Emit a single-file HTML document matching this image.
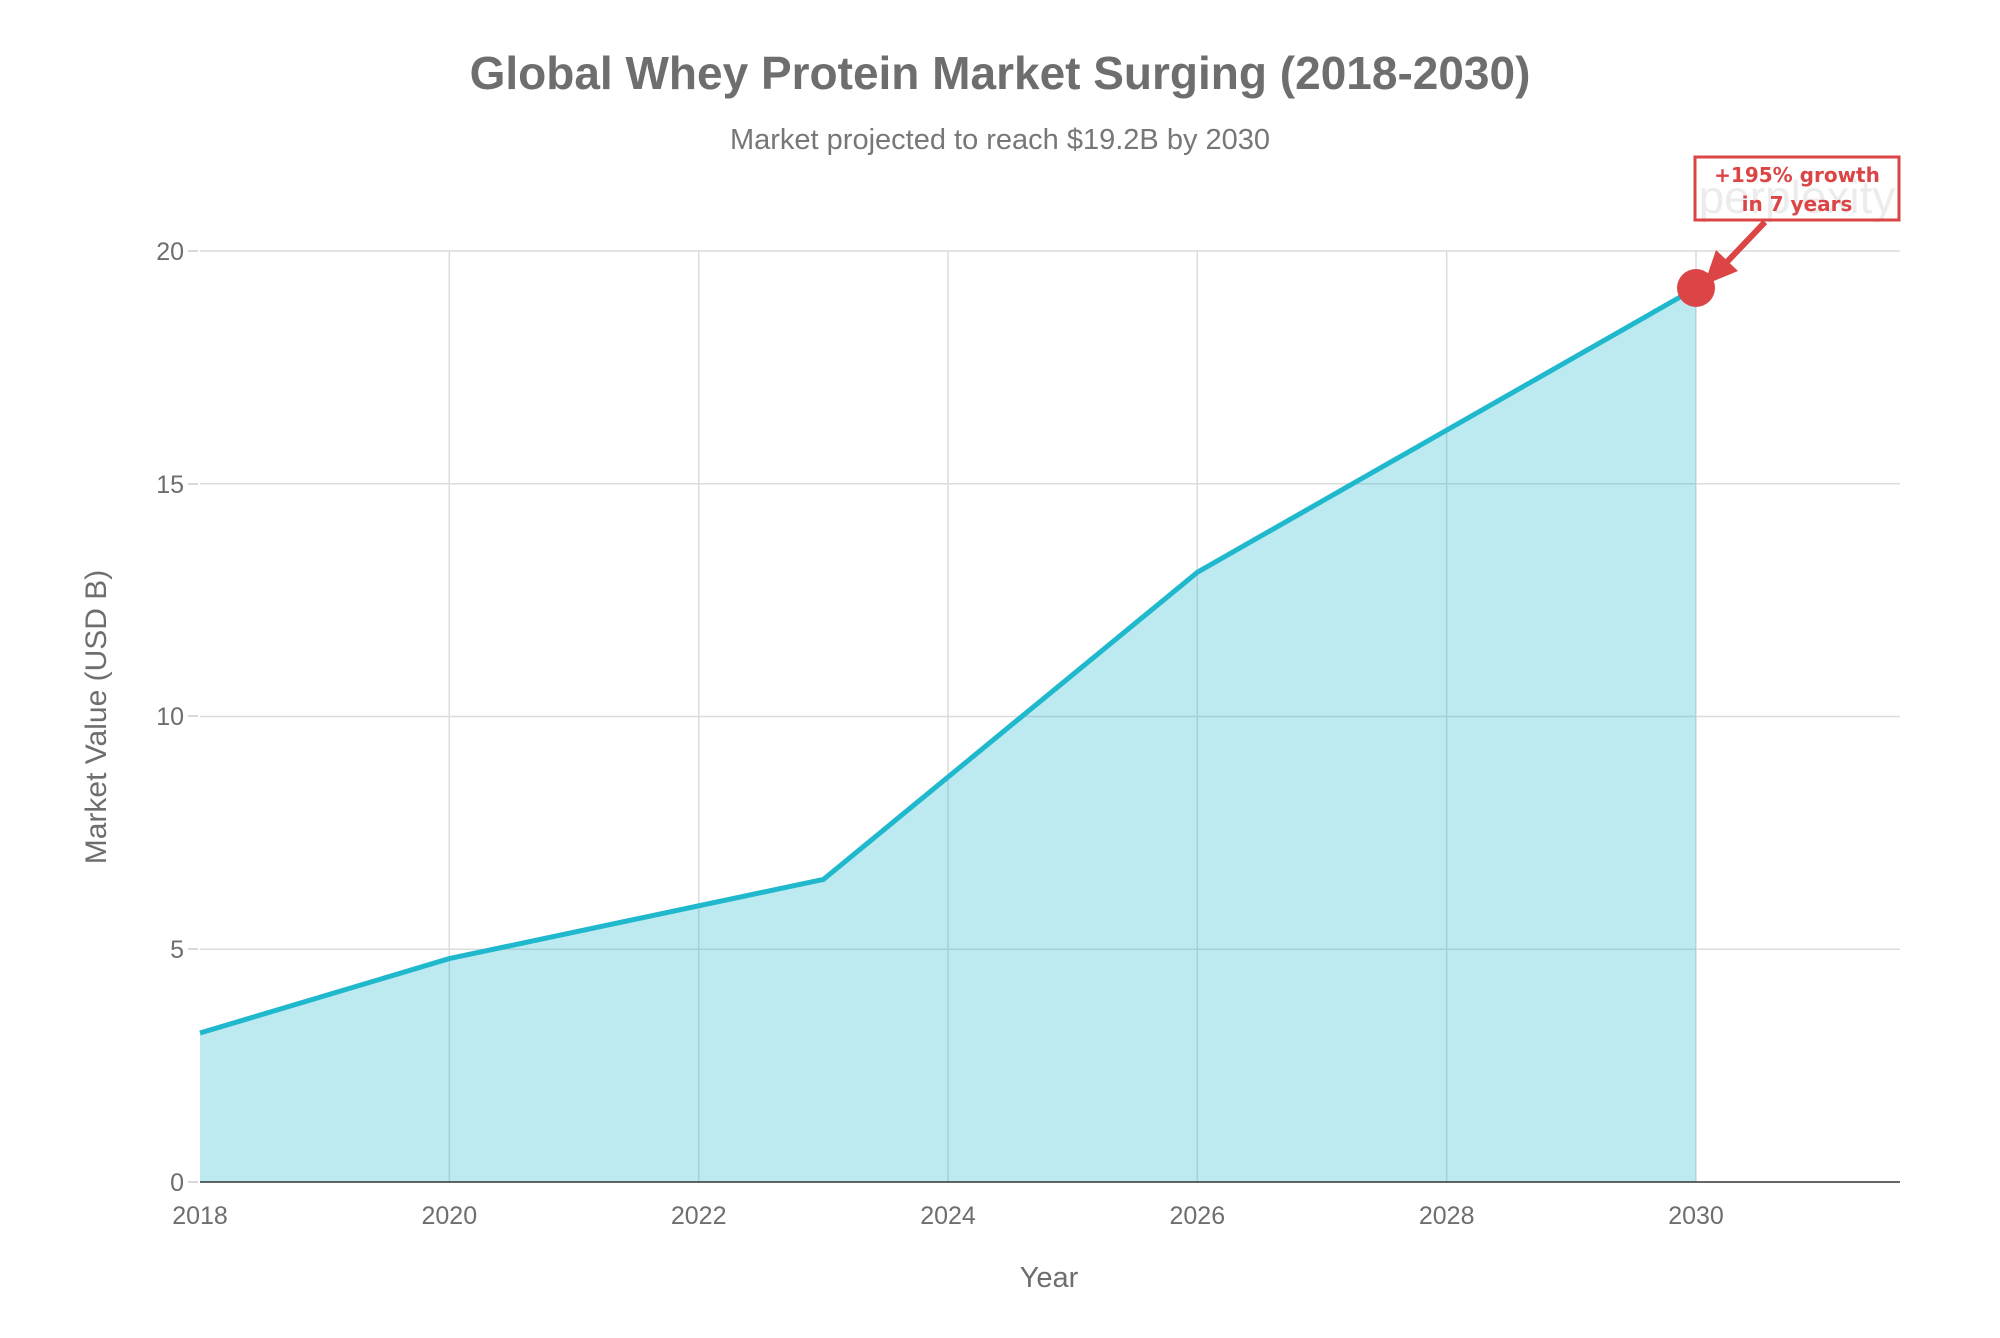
<!DOCTYPE html>
<html><head><style>
body{margin:0;background:#fff;}
svg text{font-family:"Liberation Sans",sans-serif;}
</style></head><body>
<svg width="2000" height="1333" viewBox="0 0 2000 1333" xmlns="http://www.w3.org/2000/svg">
<rect width="2000" height="1333" fill="#fff"/>
<text x="1000" y="89" text-anchor="middle" font-size="46" font-weight="bold" fill="#6e6e6e">Global Whey Protein Market Surging (2018-2030)</text>
<text x="1000" y="149" text-anchor="middle" font-size="29" fill="#777">Market projected to reach $19.2B by 2030</text>
<g stroke="#dcdcdc" stroke-width="1.5">
<line x1="200" y1="949.2" x2="1900" y2="949.2"/>
<line x1="200" y1="716.5" x2="1900" y2="716.5"/>
<line x1="200" y1="483.7" x2="1900" y2="483.7"/>
<line x1="200" y1="251" x2="1900" y2="251"/>
<line x1="449.3" y1="251" x2="449.3" y2="1182"/>
<line x1="698.7" y1="251" x2="698.7" y2="1182"/>
<line x1="948" y1="251" x2="948" y2="1182"/>
<line x1="1197.3" y1="251" x2="1197.3" y2="1182"/>
<line x1="1446.7" y1="251" x2="1446.7" y2="1182"/>
<line x1="1696" y1="251" x2="1696" y2="1182"/>
</g>
<polygon points="200,1182 200,1033 449.3,958.6 823.4,879.4 1197.5,572.2 1696,288 1696,1182" fill="#1ab8cc" fill-opacity="0.29"/>
<polyline points="200,1033 449.3,958.6 823.4,879.4 1197.5,572.2 1696,288" fill="none" stroke="#1fb8cd" stroke-width="5"/>
<line x1="200" y1="1182" x2="1900" y2="1182" stroke="#333" stroke-width="1.5"/>
<g font-size="25" fill="#6e6e6e" text-anchor="end">
<text x="184" y="1191">0</text><text x="184" y="958">5</text><text x="184" y="725">10</text><text x="184" y="493">15</text><text x="184" y="260">20</text>
</g>
<g stroke="#ccc" stroke-width="1.5"><line x1="188" y1="1182" x2="198" y2="1182"/><line x1="188" y1="949" x2="198" y2="949"/><line x1="188" y1="716" x2="198" y2="716"/><line x1="188" y1="484" x2="198" y2="484"/><line x1="188" y1="251" x2="198" y2="251"/></g>
<g font-size="25" fill="#6e6e6e" text-anchor="middle">
<text x="200" y="1224">2018</text><text x="449.3" y="1224">2020</text><text x="698.7" y="1224">2022</text><text x="948" y="1224">2024</text><text x="1197.3" y="1224">2026</text><text x="1446.7" y="1224">2028</text><text x="1696" y="1224">2030</text>
</g>
<text x="1049" y="1287" text-anchor="middle" font-size="29" fill="#6e6e6e">Year</text>
<text transform="translate(106,717) rotate(-90)" text-anchor="middle" font-size="30" fill="#6e6e6e">Market Value (USD B)</text>
<text x="1797" y="213" text-anchor="middle" font-size="46" fill="#ececec">perplexity</text>
<line x1="1765" y1="222" x2="1725" y2="264" stroke="#db4545" stroke-width="6"/>
<polygon points="1704,285 1716,250 1738,271" fill="#db4545"/>
<circle cx="1696" cy="288" r="19" fill="#db4545"/>
<rect x="1695" y="157" width="204" height="63" fill="#fff" fill-opacity="0" stroke="#db4545" stroke-width="3"/>
<g font-size="20" font-weight="bold" fill="#db4545" text-anchor="middle" style="font-family:'DejaVu Sans',sans-serif">
<text x="1797" y="182" style="font-family:'DejaVu Sans',sans-serif">+195% growth</text><text x="1797" y="211" style="font-family:'DejaVu Sans',sans-serif">in 7 years</text>
</g>
</svg>
</body></html>
